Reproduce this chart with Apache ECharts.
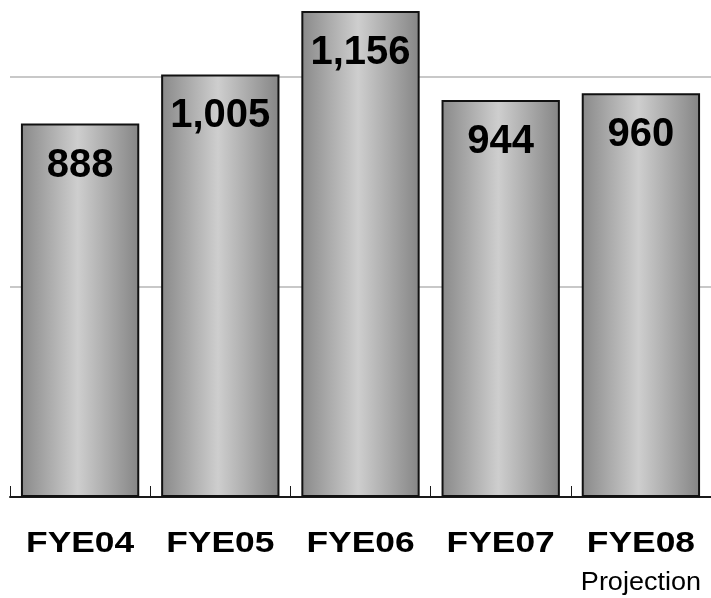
<!DOCTYPE html>
<html>
<head>
<meta charset="utf-8">
<title>FYE revenue</title>
<script src="https://cdn.jsdelivr.net/npm/echarts@6/dist/echarts.min.js"></script>
<style>
  html, body { margin: 0; padding: 0; background: #ffffff; }
  #chart { width: 711px; height: 598px; }
</style>
</head>
<body>
<div id="chart"></div>
<script>
// Fiscal years and their totals
const categories = ['FYE04', 'FYE05', 'FYE06', 'FYE07', 'FYE08'];
const values = [888, 1005, 1156, 944, 960];
// Sub-caption under the last (forecast) year
const projectionNote = 'Projection';

const FONT = 'Liberation Sans, Arial, Helvetica, sans-serif';
const GRID_LINE = '#c8c8c8';

const chart = echarts.init(document.getElementById('chart'), null, { renderer: 'canvas' });

const barGradient = new echarts.graphic.LinearGradient(0, 0, 1, 0, [
  { offset: 0, color: '#898989' },
  { offset: 0.48, color: '#cecece' },
  { offset: 1, color: '#858585' }
]);

chart.setOption({
  animation: false,
  backgroundColor: '#ffffff',
  grid: { left: 10, right: -4, top: 0, bottom: 101 },
  xAxis: {
    type: 'category',
    data: categories,
    axisLine: { show: true, lineStyle: { color: '#1a1a1a', width: 2 } },
    axisTick: { show: true, inside: true, length: 11, alignWithLabel: false,
                lineStyle: { color: '#1a1a1a', width: 1 } },
    // category names are drawn below as wide-set graphic text
    axisLabel: { show: false }
  },
  yAxis: {
    type: 'value',
    min: 0,
    max: 1182,
    interval: 500,
    axisLine: { show: false },
    axisTick: { show: false },
    axisLabel: { show: false },
    // no rule at the top edge of the plot
    splitLine: { show: true, lineStyle: { color: [GRID_LINE, GRID_LINE, GRID_LINE, 'rgba(0,0,0,0)'], width: 2 } }
  },
  series: [{
    type: 'bar',
    data: values,
    barCategoryGap: '15.6%',
    itemStyle: { color: barGradient, borderColor: '#111111', borderWidth: 2 },
    label: {
      show: true,
      position: 'insideTop',
      distance: 22,
      fontFamily: FONT,
      fontWeight: 'bold',
      fontSize: 40,
      color: '#000000',
      formatter: function (p) { return p.value.toLocaleString('en-US'); }
    }
  }]
});

// Category captions, horizontally widened, placed from the axis scale
function drawCaptions() {
  const baseY = chart.convertToPixel({ yAxisIndex: 0 }, 0);
  const elements = [];
  categories.forEach(function (name, i) {
    const x = chart.convertToPixel({ xAxisIndex: 0 }, name);
    elements.push({
      type: 'text', x: x, y: baseY + 47, scaleX: 1.22, scaleY: 1,
      style: { text: name, font: 'bold 29px ' + FONT, fill: '#000000',
               align: 'center', verticalAlign: 'middle' }
    });
    if (i === categories.length - 1) {
      elements.push({
        type: 'text', x: x, y: baseY + 86, scaleX: 1.08, scaleY: 1,
        style: { text: projectionNote, font: 'normal 25px ' + FONT, fill: '#000000',
                 align: 'center', verticalAlign: 'middle' }
      });
    }
  });
  chart.setOption({ graphic: { elements: elements } });
}
drawCaptions();
</script>
</body>
</html>
